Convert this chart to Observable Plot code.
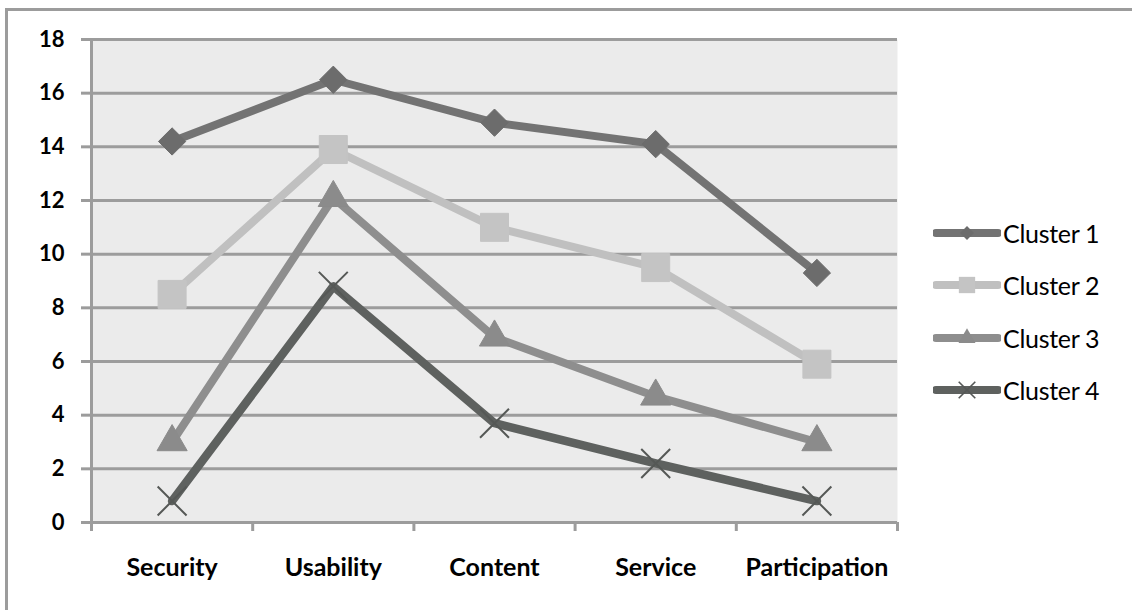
<!DOCTYPE html>
<html><head><meta charset="utf-8">
<script src="https://cdn.jsdelivr.net/npm/d3@7"></script>
<script src="https://cdn.jsdelivr.net/npm/@observablehq/plot@0.6"></script>
<style>
html,body{margin:0;padding:0;background:#fff;overflow:hidden;width:1132px;height:610px}
#wrap{position:relative;width:1132px;height:610px;overflow:hidden}
#border{position:absolute;left:5px;top:8px;width:1127px;height:602px;border-left:3px solid #9c9c9c;border-top:3px solid #9c9c9c;box-sizing:border-box}
#chart{position:absolute;left:0;top:0}
#legend{position:absolute;left:933px;top:207px;font-family:Lato,"Noto Sans",sans-serif;font-size:25px;color:#000}
.row{display:flex;align-items:center;height:52.3px}
.row svg{display:block}
.row span{margin-left:2px;letter-spacing:-0.3px}
</style></head><body>
<div id="wrap"><div id="border"></div><div id="chart"></div><div id="legend"></div></div>
<script>
// ---- data ----
const categories = ["Security", "Usability", "Content", "Service", "Participation"];
const seriesNames = ["Cluster 1", "Cluster 2", "Cluster 3", "Cluster 4"];
const cluster1 = [14.2, 16.5, 14.9, 14.1, 9.3];
const cluster2 = [8.5, 13.9, 11.0, 9.5, 5.9];
const cluster3 = [3.0, 12.1, 6.9, 4.7, 3.0];
const cluster4 = [0.8, 8.8, 3.7, 2.2, 0.8];
const yTicks = [0, 2, 4, 6, 8, 10, 12, 14, 16, 18];

// ---- styles ----
const lineColors = ["#737373", "#c0c0c0", "#8e8e8e", "#5e615f"];
const markerFill = ["#6c6c6c", "#c4c4c4", "#8b8b8b", "none"];
const markerSymbol = ["diamond2", "square", "triangle", "times"];
const markerR = [12.3, 15.8, 11.2, 13.2];
const legendR = [6.2, 9.2, 6.3, 7.6];
const lineWidths = [8, 8, 8, 8.5];
const gridColor = "#9c9c9c";

const allValues = [cluster1, cluster2, cluster3, cluster4];
const rows = [];
seriesNames.forEach((s, si) => {
  categories.forEach((c, ci) => {
    rows.push({series: s, si, category: c, pos: ci + 0.5, value: allValues[si][ci]});
  });
});
const bandEdges = d3.range(categories.length + 1);
const bandCenters = categories.map((c, i) => i + 0.5);

const marks = [
  Plot.frame({fill: "#ebebeb", stroke: null}),
  Plot.ruleY(yTicks, {stroke: gridColor, strokeWidth: 3}),
  Plot.ruleX([0], {stroke: gridColor, strokeWidth: 3}),
  Plot.axisY({ticks: yTicks, tickSize: 10, tickPadding: 17, stroke: gridColor, strokeWidth: 3, label: null,
    fill: "#000", fontSize: 22, fontWeight: "bold", tickFormat: d => String(d)}),
  Plot.axisX({ticks: bandEdges, tickSize: 9, stroke: gridColor, strokeWidth: 3, label: null, tickFormat: () => ""}),
  Plot.axisX({ticks: bandCenters, tickSize: 0, tickPadding: 36, fill: "#000", fontSize: 25, label: null,
    fontWeight: "bold", tickFormat: d => categories[Math.floor(d)]})
];
seriesNames.forEach((s, si) => {
  const d = rows.filter(r => r.si === si);
  marks.push(Plot.line(d, {x: "pos", y: "value", stroke: lineColors[si], strokeWidth: lineWidths[si],
    strokeLinejoin: "round", strokeLinecap: "round"}));
  if (markerSymbol[si] === "times") {
    marks.push(Plot.dot(d, {x: "pos", y: "value", symbol: () => "times", r: markerR[si],
      stroke: "#555856", strokeWidth: 2, fill: "none"}));
  } else {
    marks.push(Plot.dot(d, {x: "pos", y: "value", symbol: () => markerSymbol[si], r: markerR[si],
      fill: markerFill[si], stroke: markerFill[si], strokeWidth: 1}));
  }
});

const chart = Plot.plot({
  width: 1132, height: 610,
  marginLeft: 91, marginRight: 235, marginTop: 39, marginBottom: 88,
  x: {type: "linear", domain: [0, categories.length], axis: null, label: null},
  y: {domain: [0, 18], axis: null, label: null},
  symbol: {type: "identity"},
  style: {fontFamily: "Lato, 'Noto Sans', sans-serif", background: "transparent", overflow: "visible"},
  marks
});
document.getElementById("chart").appendChild(chart);

// legend
const legend = document.getElementById("legend");
const symMap = {diamond2: d3.symbolDiamond2, square: d3.symbolSquare, triangle: d3.symbolTriangle, times: d3.symbolTimes};
seriesNames.forEach((s, si) => {
  const row = document.createElement("div");
  row.className = "row";
  const svg = d3.create("svg").attr("width", 68).attr("height", 30);
  svg.append("line").attr("x1", 3).attr("x2", 65).attr("y1", 15).attr("y2", 15)
    .attr("stroke", lineColors[si]).attr("stroke-width", 8).attr("stroke-linecap", "round");
  const size = Math.PI * legendR[si] * legendR[si];
  const p = svg.append("path").attr("transform", "translate(34,15)")
    .attr("d", d3.symbol(symMap[markerSymbol[si]], size)());
  if (markerSymbol[si] === "times") p.attr("fill", "none").attr("stroke", "#555856").attr("stroke-width", 1.6);
  else p.attr("fill", markerFill[si]);
  row.appendChild(svg.node());
  const t = document.createElement("span");
  t.textContent = s;
  row.appendChild(t);
  legend.appendChild(row);
});
</script>
</body></html>
